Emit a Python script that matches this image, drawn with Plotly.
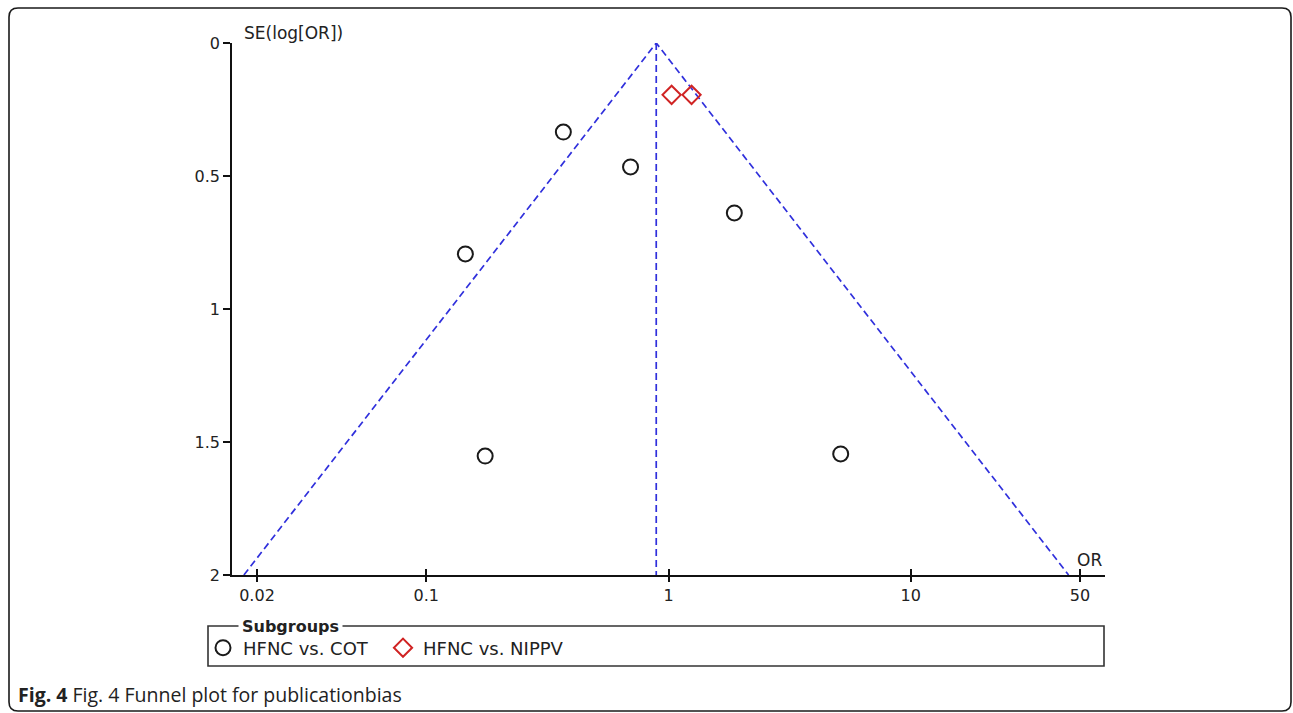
import math
import plotly.graph_objects as go

# ---- data ----
cot_or = [0.368, 0.697, 0.145, 1.87, 0.175, 5.14]
cot_se = [0.335, 0.466, 0.793, 0.639, 1.553, 1.545]
nippv_or = [1.03, 1.245]
nippv_se = [0.195, 0.195]
pooled_or = 0.89
se_max = 2.0
x_tickvals = [0.02, 0.1, 1, 10, 50]
x_ticktext = ["0.02", "0.1", "1", "10", "50"]
y_tickvals = [0, 0.5, 1, 1.5, 2]
y_ticktext = ["0", "0.5", "1", "1.5", "2"]

# ---- layout geometry (pixels) ----
W, H = 1293, 713
L, R, T, B = 232, 1105, 43, 575
def px(x):
    return (x - L) / (R - L)
def py(y):
    return (B - y) / (B - T)

FONT = "DejaVu Sans"
TXT = "#222222"
BLUE = "#3030dc"

# funnel limits (95%)
lo = pooled_or * math.exp(-1.96 * se_max)
hi = pooled_or * math.exp(1.96 * se_max)

fig = go.Figure()
dash = "7px,4px"
fig.add_trace(go.Scatter(x=[lo, pooled_or, hi], y=[se_max, 0, se_max], mode="lines",
                         line=dict(color=BLUE, width=1.7, dash=dash), showlegend=False, hoverinfo="skip"))
fig.add_trace(go.Scatter(x=[pooled_or, pooled_or], y=[0, se_max], mode="lines",
                         line=dict(color=BLUE, width=1.7, dash=dash), showlegend=False, hoverinfo="skip"))
fig.add_trace(go.Scatter(x=cot_or, y=cot_se, mode="markers", name="HFNC vs. COT",
                         marker=dict(symbol="circle-open", size=15, color="#1a1a1a", line=dict(width=2, color="#1a1a1a"))))
fig.add_trace(go.Scatter(x=nippv_or, y=nippv_se, mode="markers", name="HFNC vs. NIPPV",
                         marker=dict(symbol="diamond-open", size=14, color="#d02424", line=dict(width=2, color="#d02424"))))
# dummy trace for overlay axis (inside tick marks)
fig.add_trace(go.Scatter(x=[1], y=[1], xaxis="x2", mode="markers", marker=dict(opacity=0),
                         showlegend=False, hoverinfo="skip"))

xr = [math.log10(0.02) - (257 - L) / 242.2, math.log10(50) + (R - 1080) / 242.2]

fig.update_layout(
    width=W, height=H,
    margin=dict(l=L, r=W - R, t=T, b=H - B),
    paper_bgcolor="white", plot_bgcolor="white",
    font=dict(family=FONT, size=16, color=TXT),
    xaxis=dict(type="log", range=xr, tickvals=x_tickvals, ticktext=x_ticktext,
               showgrid=False, zeroline=False, showline=True, linecolor="#111", linewidth=1.6,
               ticks="outside", ticklen=5, tickwidth=1.6, tickcolor="#111",
               tickfont=dict(family=FONT, size=16, color=TXT)),
    xaxis2=dict(type="log", range=xr, overlaying="x", anchor="y", side="bottom", tickvals=x_tickvals,
                showticklabels=False, showgrid=False, zeroline=False, showline=False,
                ticks="inside", ticklen=6, tickwidth=1.6, tickcolor="#111"),
    yaxis=dict(range=[2, 0], tickvals=y_tickvals, ticktext=y_ticktext,
               showgrid=False, zeroline=False, showline=True, linecolor="#111", linewidth=1.6,
               ticks="outside", ticklen=7, tickwidth=1.6, tickcolor="#111",
               tickfont=dict(family=FONT, size=16, color=TXT)),
    legend=dict(orientation="h", x=px(203), y=py(648), xanchor="left", yanchor="middle",
                font=dict(family=FONT, size=18, color=TXT), bgcolor="rgba(0,0,0,0)",
                entrywidth=135, entrywidthmode="pixels",
                itemclick=False, itemdoubleclick=False, traceorder="normal"),
)

# outer rounded border
x0, y0, x1, y1, rr = 9, 8, 1291, 711, 9
path = (f"M {px(x0+rr)},{py(y0)} L {px(x1-rr)},{py(y0)} Q {px(x1)},{py(y0)} {px(x1)},{py(y0+rr)} "
        f"L {px(x1)},{py(y1-rr)} Q {px(x1)},{py(y1)} {px(x1-rr)},{py(y1)} "
        f"L {px(x0+rr)},{py(y1)} Q {px(x0)},{py(y1)} {px(x0)},{py(y1-rr)} "
        f"L {px(x0)},{py(y0+rr)} Q {px(x0)},{py(y0)} {px(x0+rr)},{py(y0)} Z")
fig.add_shape(type="path", path=path, xref="paper", yref="paper", line=dict(color="#1a1a1a", width=1.6))

# legend box
fig.add_shape(type="rect", xref="paper", yref="paper", x0=px(208), x1=px(1104), y0=py(666), y1=py(626),
              line=dict(color="#333", width=1.6))
fig.add_annotation(xref="paper", yref="paper", x=px(238), y=py(626), xanchor="left", yanchor="middle",
                   text="<b>Subgroups</b>", showarrow=False, bgcolor="white", borderpad=3,
                   font=dict(family=FONT, size=16, color=TXT))

# axis titles
fig.add_annotation(xref="paper", yref="paper", x=px(242), y=py(33), xanchor="left", yanchor="middle",
                   text="SE(log[OR])", showarrow=False, font=dict(family=FONT, size=17, color=TXT))
fig.add_annotation(xref="paper", yref="paper", x=px(1075), y=py(560), xanchor="left", yanchor="middle",
                   text="OR", showarrow=False, font=dict(family=FONT, size=17, color=TXT))

# caption
fig.add_annotation(xref="paper", yref="paper", x=px(16), y=py(694), xanchor="left", yanchor="middle",
                   text="<b>Fig. 4</b> Fig. 4 Funnel plot for publicationbias", showarrow=False,
                   font=dict(family="Open Sans", size=19.5, color="#222"))

fig.write_html("out.html")
